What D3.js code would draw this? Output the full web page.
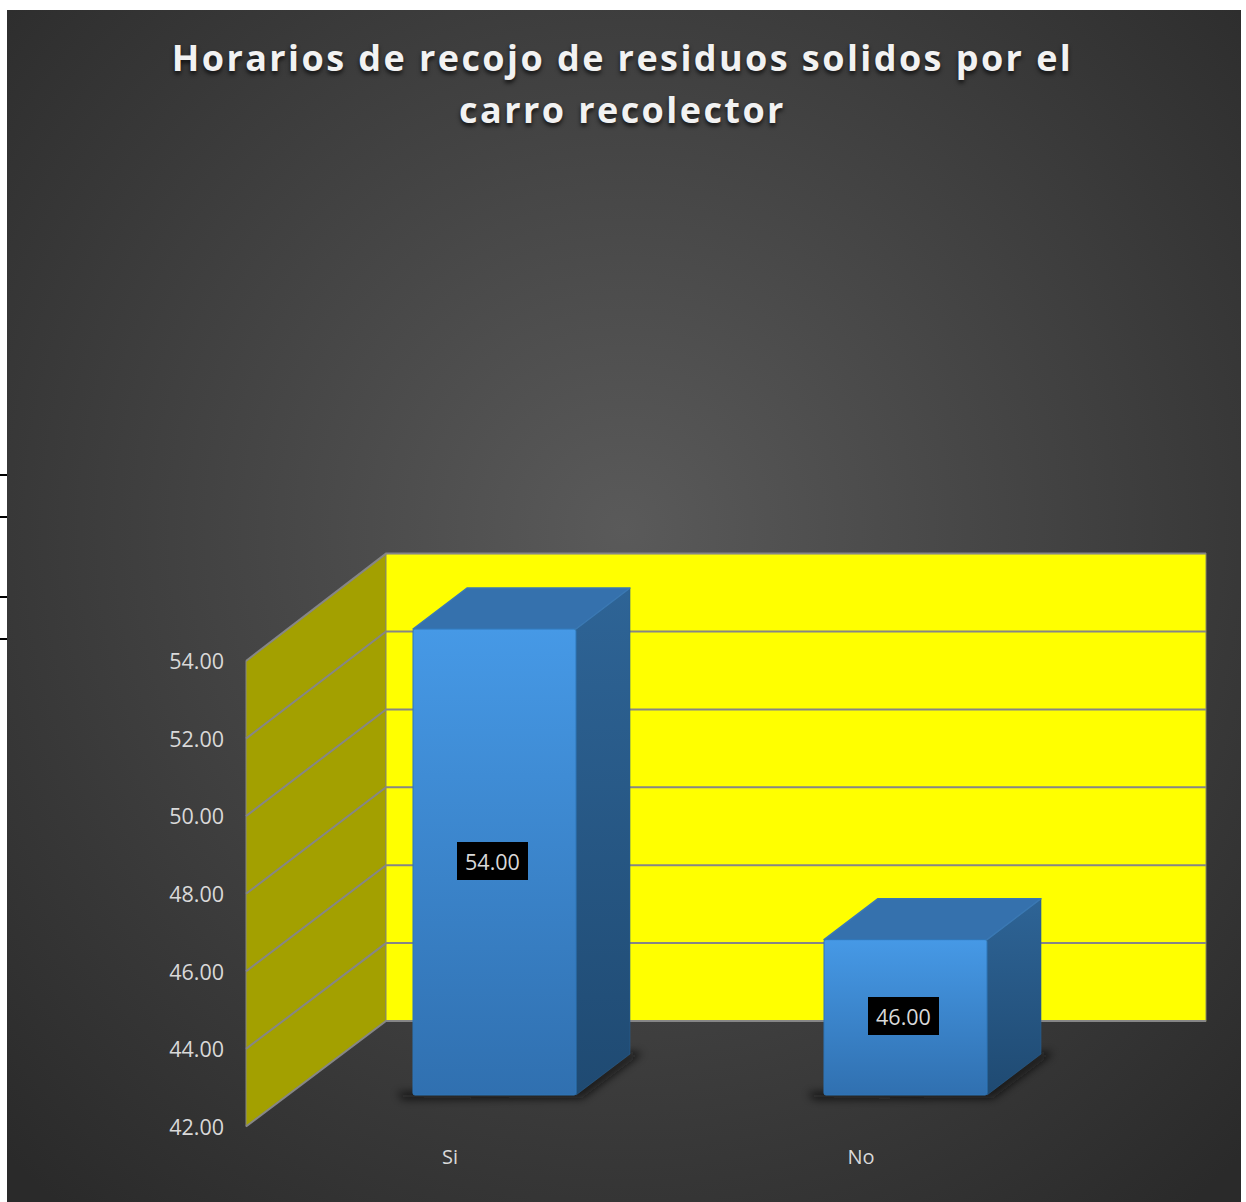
<!DOCTYPE html>
<html><head><meta charset="utf-8">
<script src="https://cdn.jsdelivr.net/npm/d3@7/dist/d3.min.js"></script>
<style>
html,body{margin:0;padding:0;background:#fff}
svg{display:block}
text{font-family:"Open Sans",sans-serif}
.title{font-weight:700;font-size:36px;letter-spacing:2.42px;fill:#f2f2f2;text-shadow:0 3px 4px rgba(0,0,0,.7)}
.lab{font-size:21.5px;fill:#d9d9d9}
</style></head><body>
<div id="chart"></div>
<script>
const titleLines=["Horarios de recojo de residuos solidos por el","carro recolector"];
const categories=["Si","No"];
const values=[54,46];
const tickValues=[42,44,46,48,50,52,54];

const W=1246,H=1202;
const svg=d3.select("#chart").append("svg").attr("width",W).attr("height",H);
const defs=svg.append("defs");

const bg=defs.append("radialGradient").attr("id","bg").attr("gradientUnits","userSpaceOnUse")
  .attr("cx",624).attr("cy",530).attr("r",880);
[[0,"#5a5a5a"],[.35,"#494949"],[.7,"#383838"],[1,"#2a2a2a"]].forEach(s=>bg.append("stop").attr("offset",s[0]).attr("stop-color",s[1]));
function vgrad(id,a,b,x2){const g=defs.append("linearGradient").attr("id",id).attr("x1",0).attr("y1",0).attr("x2",x2||0).attr("y2",1);
  g.append("stop").attr("offset",0).attr("stop-color",a);g.append("stop").attr("offset",1).attr("stop-color",b);}
vgrad("front","#4699e6","#3070b0");
vgrad("side","#2e6496","#1f4a72");
defs.append("filter").attr("id","blur").attr("x","-20%").attr("y","-30%").attr("width","140%").attr("height","160%")
  .append("feGaussianBlur").attr("stdDeviation",4.5);

svg.append("rect").attr("x",7).attr("y",10).attr("width",1234).attr("height",1192).attr("fill","url(#bg)");
svg.append("g").selectAll("rect").data([475,517,597,639]).join("rect")
  .attr("x",0).attr("y",d=>d-1).attr("width",7).attr("height",2).attr("fill","#000");

// scales: front edge of wall, back edge of wall, front face of the bars
const yFront=d3.scaleLinear().domain([42,54]).range([1126.5,661]);
const yBack=d3.scaleLinear().domain([42,54]).range([1021,553.6]);
const yBar=d3.scaleLinear().domain([42,54]).range([1095,629]);
const x=d3.scaleBand().domain(categories).range([289,1111]).paddingInner(.6034).paddingOuter(.3017);
const xWallFront=246,xWallBack=386,xWallRight=1206;
const dx=54,dy=-41;

const poly=p=>p.map(q=>q.join(",")).join(" ");
// walls
svg.append("polygon").attr("points",poly([[xWallFront,yFront(42)],[xWallBack,yBack(42)],[xWallBack,yBack(54)],[xWallFront,yFront(54)]]))
  .attr("fill","#a3a000").attr("stroke","#868686").attr("stroke-width",1);
svg.append("rect").attr("x",xWallBack).attr("y",yBack(54)).attr("width",xWallRight-xWallBack).attr("height",yBack(42)-yBack(54))
  .attr("fill","#ffff00").attr("stroke","#8a8a5a").attr("stroke-width",1);
// gridlines
const grid=svg.append("g").attr("stroke","#868686").attr("stroke-width",2).attr("fill","none");
tickValues.forEach(t=>{
  grid.append("polyline").attr("points",poly([[xWallFront,yFront(t)],[xWallBack,yBack(t)],[xWallRight,yBack(t)]]));
});
// y axis labels
const axis=svg.append("g").attr("transform",`translate(${xWallFront},0)`)
  .call(d3.axisLeft(yFront).tickValues(tickValues).tickSize(0).tickPadding(22).tickFormat(d3.format(".2f")));
axis.select(".domain").remove();
axis.selectAll("text").attr("class","lab").attr("dy","0.36em");
axis.attr("font-size",null).attr("font-family",null);

// bars
const bars=svg.append("g").selectAll("g").data(categories.map((c,i)=>({c,v:values[i]}))).join("g");
bars.each(function(d){
  const g=d3.select(this),x0=x(d.c),x1=x0+x.bandwidth(),yt=yBar(d.v),yb=yBar(42);
  g.append("polygon").attr("points",poly([[x0-16,yb-2],[x1,yb-6],[x1+dx,yb+dy-2],[x1+dx+12,yb+dy-1],[x1+6,yb+3],[x0-10,yb+4]]))
    .attr("fill","#0c0c0c").attr("opacity",.8).attr("filter","url(#blur)");
  g.append("polygon").attr("points",poly([[x1,yt],[x1+dx,yt+dy],[x1+dx,yb+dy],[x1,yb]])).attr("fill","url(#side)")
    .attr("stroke","#2a5f90").attr("stroke-width",.6).attr("stroke-linejoin","round");
  g.append("polygon").attr("points",poly([[x0,yt],[x0+dx,yt+dy],[x1+dx,yt+dy],[x1,yt]])).attr("fill","#3571ad")
    .attr("stroke","#3a78b4").attr("stroke-width",1.5).attr("stroke-linejoin","round");
  g.append("rect").attr("x",x0).attr("y",yt).attr("width",x.bandwidth()).attr("height",yb-yt).attr("rx",2)
    .attr("fill","url(#front)").attr("stroke","#2f76b8").attr("stroke-width",1);
  const cx=Math.floor((x0+x1)/2-2),cy=(yt+yb)/2;
  g.append("rect").attr("x",Math.floor(cx-35)).attr("y",Math.floor(cy-19.5)).attr("width",71).attr("height",38).attr("fill","#000");
  g.append("text").attr("class","lab").attr("x",cx+.5).attr("y",cy).attr("dy","0.36em").attr("text-anchor","middle").text(d3.format(".2f")(d.v));
  g.append("text").attr("class","lab").attr("x",(x0+x1)/2-44.5).attr("y",1164).attr("text-anchor","middle").text(d.c).style("font-size","20px");
});

// title
svg.append("g").selectAll("text").data(titleLines).join("text").attr("class","title")
  .attr("x",622.5).attr("y",(d,i)=>71+i*52).attr("text-anchor","middle").text(d=>d);
</script></body></html>
